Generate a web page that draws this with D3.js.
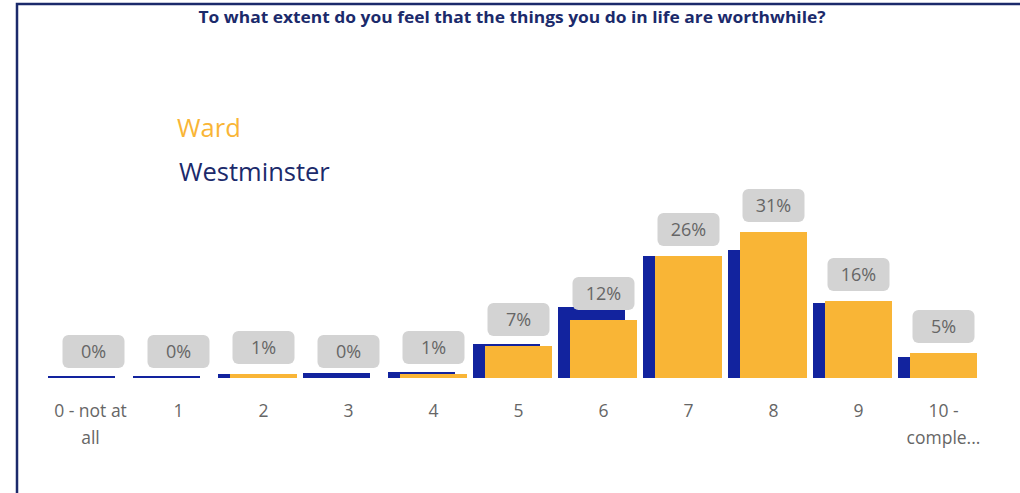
<!DOCTYPE html>
<html><head><meta charset="utf-8">
<script src="https://cdn.jsdelivr.net/npm/d3@7"></script>
<style>body{margin:0;background:#fff;} svg{display:block;}</style>
</head><body>
<svg id="c" width="1020" height="493"></svg>
<script>
const categories = ["0 - not at all","1","2","3","4","5","6","7","8","9","10 - comple..."];
const wardValues = [0,0,0.85,0,0.85,6.8,12.3,26,31,16.3,5.3];
const westminsterValues = [0.5,0.5,0.8,1.1,1.3,7.2,15.1,26,27.2,15.9,4.4];
const wardLabels = ["0%","0%","1%","0%","1%","7%","12%","26%","31%","16%","5%"];
const axisLines = [["0 - not at","all"],["1"],["2"],["3"],["4"],["5"],["6"],["7"],["8"],["9"],["10 -","comple..."]];
const titleText = "To what extent do you feel that the things you do in life are worthwhile?";
const seriesNames = ["Ward","Westminster"];
const colors = {ward:"#F9B536", west:"#12239E", navyText:"#1B2A6B", gray:"#666666"};

const svg = d3.select("#c");
const font = "'Open Sans', 'Noto Sans', sans-serif";

// frame
svg.append("path").attr("d","M17,493 L17,4 L1020,4").attr("fill","none").attr("stroke","#1B2A6B").attr("stroke-width",2.5);

svg.append("text").attr("x",512).attr("y",23).attr("text-anchor","middle")
  .attr("font-family",font).attr("font-weight","bold").attr("font-size",16)
  .attr("textLength",627).attr("lengthAdjust","spacingAndGlyphs")
  .attr("fill","#1B2A6B").text(titleText);

// legend
svg.append("text").attr("x",177).attr("y",137).attr("font-family",font).attr("font-size",25.5)
  .attr("fill",colors.ward).text(seriesNames[0]);
svg.append("text").attr("x",179).attr("y",181).attr("font-family",font).attr("font-size",25.5)
  .attr("fill",colors.navyText).text(seriesNames[1]);

const x = d3.scaleBand().domain(categories).range([48, 983]).paddingInner(0.0).paddingOuter(0);
const y = d3.scaleLinear().domain([0, 31]).range([378, 232]).interpolate(d3.interpolateRound);
const barW = 67, offset = 12;

const g = svg.append("g").attr("shape-rendering","crispEdges");
const lg = svg.append("g");
categories.forEach((c,i)=>{
  const x0 = Math.round(x(c));
  const hw = y(0)-y(westminsterValues[i]);
  g.append("rect").attr("x",x0).attr("y",y(westminsterValues[i])).attr("width",barW).attr("height",hw).attr("fill",colors.west);
  const hd = y(0)-y(wardValues[i]);
  g.append("rect").attr("x",x0+offset).attr("y",y(wardValues[i])).attr("width",barW).attr("height",hd).attr("fill",colors.ward);
  const cx = x0+offset+barW/2;
  const top = Math.min(y(wardValues[i]), y(0)) - 10;
  lg.append("rect").attr("x",cx-31).attr("y",top-33).attr("width",62).attr("height",33).attr("rx",6)
    .attr("fill","#D3D3D3");
  lg.append("text").attr("x",cx).attr("y",top-10).attr("text-anchor","middle").attr("font-family",font)
    .attr("font-size",18).attr("fill",colors.gray).text(wardLabels[i]);
  const t = lg.append("text").attr("text-anchor","middle").attr("font-family",font).attr("font-size",17.5).attr("fill",colors.gray);
  axisLines[i].forEach((ln,j)=>{
    t.append("tspan").attr("x",cx - (i===0?3:0)).attr("y",417+j*27).text(ln);
  });
});
</script>
</body></html>
